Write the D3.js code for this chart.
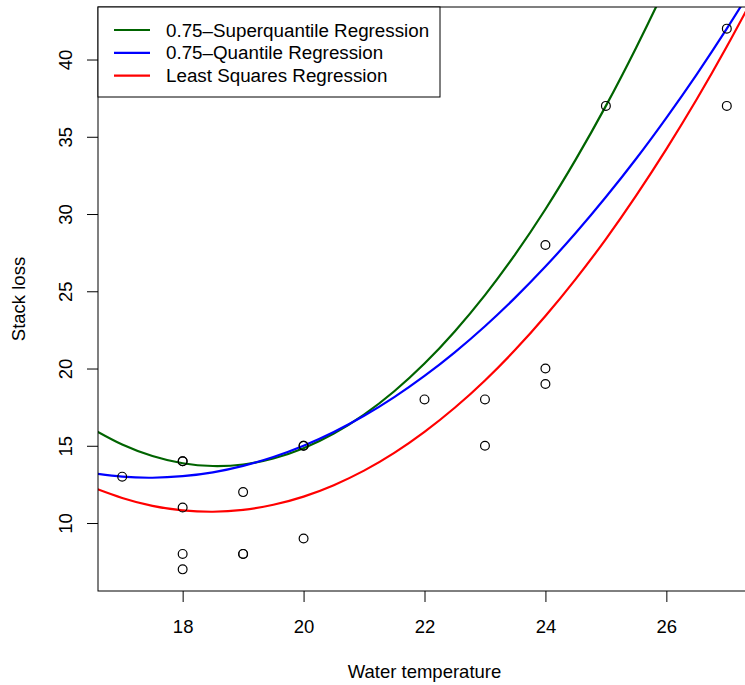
<!DOCTYPE html>
<html>
<head>
<meta charset="utf-8">
<script src="https://cdn.jsdelivr.net/npm/d3@7"></script>
<style>
  html, body { margin: 0; padding: 0; background: #fff; }
  svg { display: block; font-family: "Liberation Sans", Arial, sans-serif; }
</style>
</head>
<body>
<script>
// Stack loss observations against water temperature
const waterTemp = [27, 27, 25, 24, 22, 23, 24, 24, 23, 18, 18, 17, 18, 19, 18, 18, 19, 19, 20, 20, 20];
const stackLoss = [42, 37, 37, 28, 18, 18, 19, 20, 15, 14, 14, 13, 11, 12, 8, 7, 8, 8, 9, 15, 15];

// Fitted curves, sampled along the temperature axis
const fitTemp = [16.5, 17, 17.5, 18, 18.5, 19, 19.5, 20, 20.5, 21, 21.5, 22, 22.5, 23, 23.5, 24, 24.5, 25, 25.5, 26, 26.5, 27, 27.5];
const superquantileFit = [16.11, 15.08, 14.34, 13.87, 13.69, 13.79, 14.18, 14.84, 15.79, 17.02, 18.53, 20.32, 22.40, 24.75, 27.39, 30.31, 33.52, 37.00, 40.77, 44.81, 49.15, 53.76, 58.65];
const quantileFit = [13.23, 13.00, 12.93, 13.03, 13.28, 13.70, 14.27, 15.00, 15.89, 16.94, 18.15, 19.52, 21.05, 22.74, 24.59, 26.60, 28.77, 31.10, 33.58, 36.23, 39.03, 42.00, 45.13];
const leastSquaresFit = [12.32, 11.62, 11.11, 10.82, 10.73, 10.85, 11.18, 11.71, 12.45, 13.39, 14.54, 15.90, 17.46, 19.23, 21.21, 23.40, 25.79, 28.38, 31.19, 34.20, 37.41, 40.84, 44.47];

const xTicks = [18, 20, 22, 24, 26];
const yTicks = [10, 15, 20, 25, 30, 35, 40];

const seriesNames = ["0.75\u2013Superquantile Regression", "0.75\u2013Quantile Regression", "Least Squares Regression"];
const seriesColors = ["#006400", "#0000ff", "#ff0000"];
const seriesValues = [superquantileFit, quantileFit, leastSquaresFit];

const W = 745, H = 685;
const plot = { left: 98, right: 751, top: 7, bottom: 591 };
const FS = 18.5;

const svg = d3.select("body").append("svg").attr("width", W).attr("height", H);

const x = d3.scaleLinear().domain([16.6, 27.4]).range([plot.left, plot.right]);
const y = d3.scaleLinear().domain([5.6, 43.4]).range([plot.bottom, plot.top]);

svg.append("defs").append("clipPath").attr("id", "plot-clip")
  .append("rect")
  .attr("x", plot.left).attr("y", plot.top)
  .attr("width", plot.right - plot.left).attr("height", plot.bottom - plot.top);

// Axes
const xAxis = svg.append("g")
  .attr("transform", `translate(0,${plot.bottom})`)
  .call(d3.axisBottom(x).tickValues(xTicks).tickFormat(d3.format("d")).tickSize(11).tickPadding(17.5));
xAxis.select(".domain").remove();
xAxis.selectAll("text").attr("font-size", FS).attr("fill", "#000").attr("font-family", null);
xAxis.selectAll("line").attr("stroke", "#000");

const yAxis = svg.append("g")
  .attr("transform", `translate(${plot.left},0)`)
  .call(d3.axisLeft(y).tickValues(yTicks).tickFormat(d3.format("d")).tickSize(11));
yAxis.select(".domain").remove();
yAxis.selectAll("line").attr("stroke", "#000");
yAxis.selectAll("text")
  .attr("x", null).attr("dy", null)
  .attr("text-anchor", "middle")
  .attr("transform", "translate(-26.5,0) rotate(-90)")
  .attr("font-size", FS).attr("fill", "#000").attr("font-family", null);

// Axis titles
svg.append("text")
  .attr("x", (plot.left + plot.right) / 2).attr("y", 678)
  .attr("text-anchor", "middle").attr("font-size", FS)
  .text("Water temperature");

svg.append("text")
  .attr("transform", `translate(25,${(plot.top + plot.bottom) / 2}) rotate(-90)`)
  .attr("text-anchor", "middle").attr("font-size", FS)
  .text("Stack loss");

// Curves
const line = d3.line()
  .x((d, i) => x(fitTemp[i]))
  .y(d => y(d))
  .curve(d3.curveNatural);

svg.append("g").attr("clip-path", "url(#plot-clip)")
  .selectAll("path")
  .data(seriesValues)
  .join("path")
  .attr("d", d => line(d))
  .attr("fill", "none")
  .attr("stroke", (d, i) => seriesColors[i])
  .attr("stroke-width", 2.2);

// Observations
svg.append("g").attr("clip-path", "url(#plot-clip)")
  .selectAll("circle")
  .data(waterTemp)
  .join("circle")
  .attr("cx", d => x(d))
  .attr("cy", (d, i) => y(stackLoss[i]))
  .attr("r", 4.4)
  .attr("fill", "none")
  .attr("stroke", "#000")
  .attr("stroke-width", 1.2);

// Plot frame
svg.append("rect")
  .attr("x", plot.left).attr("y", plot.top)
  .attr("width", plot.right - plot.left).attr("height", plot.bottom - plot.top)
  .attr("fill", "none").attr("stroke", "#000").attr("stroke-width", 1);

// Legend
const legend = svg.append("g");
legend.append("rect")
  .attr("x", plot.left).attr("y", plot.top)
  .attr("width", 342).attr("height", 90)
  .attr("fill", "#fff").attr("stroke", "#000").attr("stroke-width", 1);

const rows = legend.selectAll("g.row")
  .data(seriesNames)
  .join("g")
  .attr("class", "row")
  .attr("transform", (d, i) => `translate(0,${30 + i * 22.8})`);

rows.append("line")
  .attr("x1", 114).attr("x2", 150)
  .attr("stroke", (d, i) => seriesColors[i])
  .attr("stroke-width", 2.2);

rows.append("text")
  .attr("x", 166).attr("dy", "0.35em")
  .attr("font-size", 18.8)
  .text(d => d);
</script>
</body>
</html>
